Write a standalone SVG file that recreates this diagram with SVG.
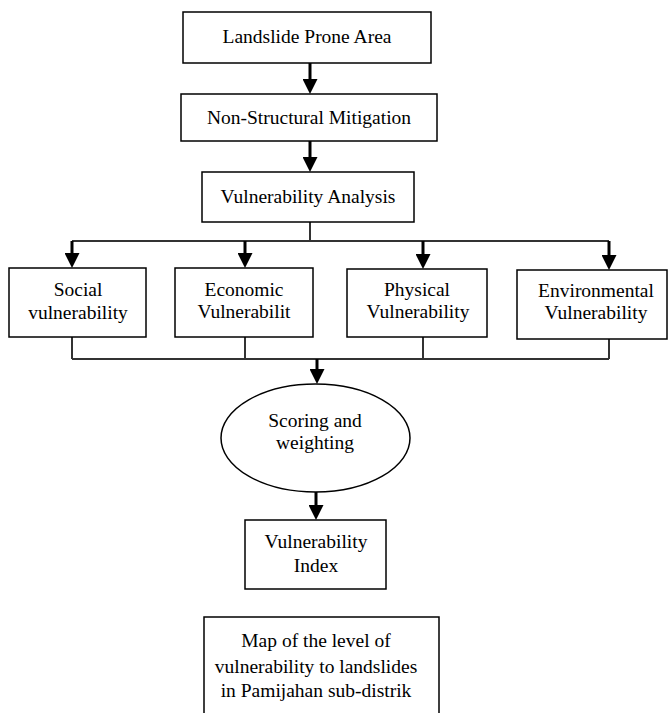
<svg xmlns="http://www.w3.org/2000/svg" width="669" height="713" viewBox="0 0 669 713">
<style>
.box{fill:#fff;stroke:#000;stroke-width:1.5}
.t{font-family:"Liberation Serif","Times New Roman",serif;font-size:19.5px;fill:#000;text-anchor:middle}
.arr{stroke:#000;stroke-width:3;fill:none}
.bus{stroke:#333;stroke-width:2;fill:none}
</style>
<defs>
<marker id="ah" markerUnits="userSpaceOnUse" markerWidth="15" markerHeight="15" refX="6" refY="7.5" orient="auto">
<path d="M0,0 L15,7.5 L0,15 z" fill="#000"/>
</marker>
</defs>
<rect width="669" height="713" fill="#fff"/>
<g id="connectors">
<line class="arr" x1="310" y1="63" x2="310" y2="85" marker-end="url(#ah)"/>
<line class="arr" x1="310" y1="141" x2="310" y2="163" marker-end="url(#ah)"/>
<path class="bus" d="M310,222 V241 M72,241 H609"/>
<line class="arr" x1="72" y1="241" x2="72" y2="259" marker-end="url(#ah)"/>
<line class="arr" x1="245" y1="241" x2="245" y2="259" marker-end="url(#ah)"/>
<line class="arr" x1="423" y1="241" x2="423" y2="260" marker-end="url(#ah)"/>
<line class="arr" x1="609" y1="241" x2="609" y2="261" marker-end="url(#ah)"/>
<path class="bus" d="M72,337 V359 M245,337 V359 M423,337 V359 M609,339 V359 M72,359 H609"/>
<line class="arr" x1="317" y1="359" x2="317" y2="375" marker-end="url(#ah)"/>
<line class="arr" x1="316" y1="492" x2="316" y2="511" marker-end="url(#ah)"/>
</g>
<g id="landslide-prone-area">
<rect class="box" x="183" y="12" width="248" height="51"/>
<text class="t" x="307" y="43">Landslide Prone Area</text>
</g>
<g id="non-structural-mitigation">
<rect class="box" x="181" y="94" width="256" height="47"/>
<text class="t" x="309" y="124">Non-Structural Mitigation</text>
</g>
<g id="vulnerability-analysis">
<rect class="box" x="202" y="172" width="212" height="50"/>
<text class="t" x="308" y="203">Vulnerability Analysis</text>
</g>
<g id="social">
<rect class="box" x="9" y="268" width="137" height="69"/>
<text class="t" x="78" y="296">Social</text>
<text class="t" x="78" y="319">vulnerability</text>
</g>
<g id="economic">
<rect class="box" x="175" y="268" width="138" height="69"/>
<text class="t" x="244" y="296">Economic</text>
<text class="t" x="244" y="318">Vulnerabilit</text>
</g>
<g id="physical">
<rect class="box" x="347" y="269" width="140" height="68"/>
<text class="t" x="417" y="296">Physical</text>
<text class="t" x="418" y="318">Vulnerability</text>
</g>
<g id="environmental">
<rect class="box" x="517" y="270" width="150" height="69"/>
<text class="t" x="596" y="297">Environmental</text>
<text class="t" x="596" y="319">Vulnerability</text>
</g>
<g id="scoring">
<ellipse class="box" cx="315.5" cy="438" rx="94.5" ry="54"/>
<text class="t" x="315" y="427">Scoring and</text>
<text class="t" x="315" y="449">weighting</text>
</g>
<g id="vulnerability-index">
<rect class="box" x="245" y="520" width="141" height="69"/>
<text class="t" x="316" y="548">Vulnerability</text>
<text class="t" x="316" y="572">Index</text>
</g>
<g id="map">
<path class="box" d="M204,715 V617 H439 V715"/>
<text class="t" x="316" y="647">Map of the level of</text>
<text class="t" x="316" y="673">vulnerability to landslides</text>
<text class="t" x="316" y="697">in Pamijahan sub-distrik</text>
</g>
</svg>
